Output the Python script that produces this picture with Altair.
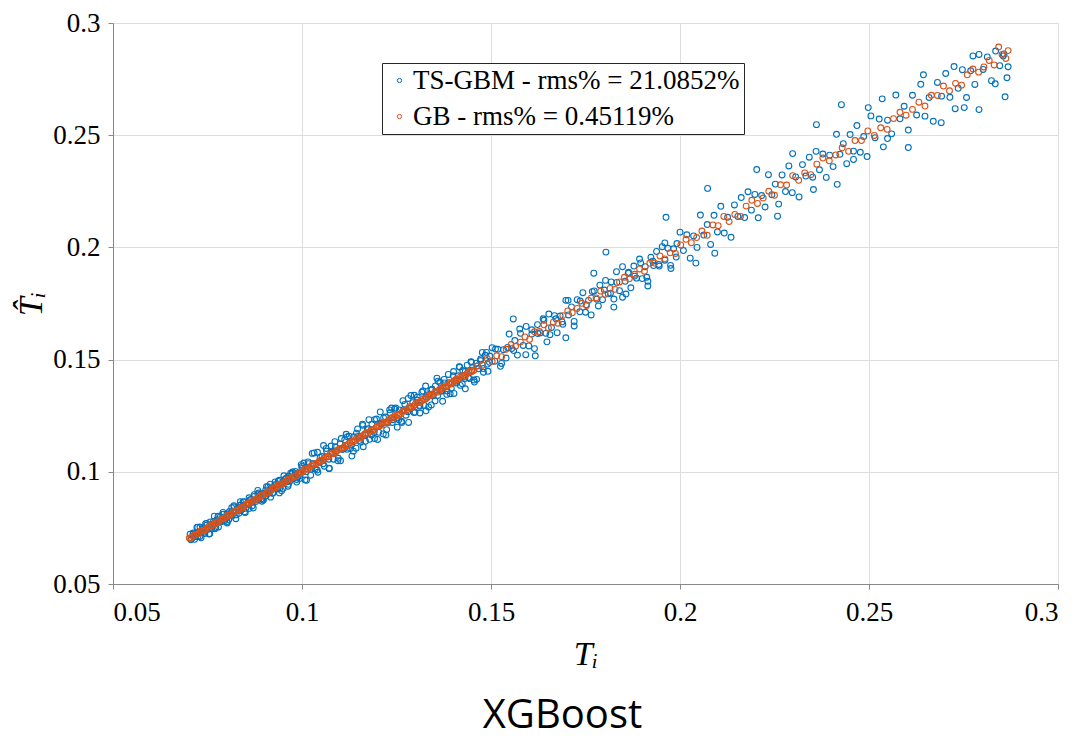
import altair as alt
import pandas as pd

# ---- values: T_i (x) and predicted T_i (y) ----
ts_label = "TS-GBM - rms% = 21.0852%"
gb_label = "GB - rms% = 0.45119%"

# TS-GBM, 0.07 - 0.10
ts_x_low = [
    0.0704, 0.0708, 0.0712, 0.0716, 0.0721, 0.0725, 0.0730, 0.0734, 0.0739, 0.0743,
    0.0748, 0.0752, 0.0757, 0.0761, 0.0766, 0.0770, 0.0775, 0.0779, 0.0784, 0.0788,
    0.0793, 0.0797, 0.0802, 0.0806, 0.0811, 0.0815, 0.0820, 0.0824, 0.0829, 0.0833,
    0.0838, 0.0842, 0.0847, 0.0851, 0.0856, 0.0860, 0.0865, 0.0869, 0.0874, 0.0878,
    0.0883, 0.0887, 0.0892, 0.0896, 0.0901, 0.0905, 0.0910, 0.0914, 0.0919, 0.0923,
    0.0928, 0.0932, 0.0937, 0.0941, 0.0946, 0.0950, 0.0955, 0.0959, 0.0964, 0.0968,
    0.0973, 0.0977, 0.0982, 0.0986, 0.0991, 0.0995, 0.1000,
    0.0706, 0.0712, 0.0718, 0.0724, 0.0730, 0.0736, 0.0742, 0.0748, 0.0754, 0.0760,
    0.0766, 0.0772, 0.0778, 0.0784, 0.0790, 0.0796, 0.0802, 0.0808, 0.0814, 0.0820,
    0.0826, 0.0832, 0.0838, 0.0844, 0.0850, 0.0856, 0.0862, 0.0868, 0.0874, 0.0880,
    0.0886, 0.0892, 0.0898, 0.0904, 0.0910, 0.0916, 0.0922, 0.0928, 0.0934, 0.0940,
    0.0946, 0.0952, 0.0958, 0.0964, 0.0970, 0.0976, 0.0982, 0.0988, 0.0994, 0.1000,
    0.0722, 0.0733, 0.0745, 0.0756, 0.0768, 0.0779, 0.0791, 0.0802, 0.0814, 0.0825,
    0.0837, 0.0848, 0.0860, 0.0871, 0.0883, 0.0894, 0.0906, 0.0917, 0.0929, 0.0940,
    0.0952, 0.0963, 0.0975, 0.0986, 0.0998,
]
ts_y_low = [
    0.0722, 0.0702, 0.0722, 0.0699, 0.0725, 0.0713, 0.0754, 0.0732, 0.0747, 0.0725,
    0.0762, 0.0744, 0.0777, 0.0747, 0.0768, 0.0746, 0.0787, 0.0775, 0.0800, 0.0778,
    0.0811, 0.0791, 0.0812, 0.0786, 0.0815, 0.0803, 0.0844, 0.0822, 0.0837, 0.0815,
    0.0852, 0.0834, 0.0867, 0.0837, 0.0858, 0.0836, 0.0877, 0.0865, 0.0890, 0.0868,
    0.0901, 0.0881, 0.0902, 0.0876, 0.0905, 0.0893, 0.0934, 0.0912, 0.0927, 0.0905,
    0.0942, 0.0924, 0.0957, 0.0927, 0.0948, 0.0926, 0.0967, 0.0955, 0.0980, 0.0958,
    0.0991, 0.0971, 0.0992, 0.0966, 0.0995, 0.0983, 0.1024,
    0.0697, 0.0727, 0.0711, 0.0753, 0.0712, 0.0745, 0.0731, 0.0770, 0.0723, 0.0764,
    0.0779, 0.0752, 0.0802, 0.0780, 0.0810, 0.0783, 0.0778, 0.0823, 0.0807, 0.0849,
    0.0808, 0.0841, 0.0827, 0.0866, 0.0819, 0.0860, 0.0875, 0.0848, 0.0898, 0.0876,
    0.0906, 0.0879, 0.0874, 0.0919, 0.0903, 0.0945, 0.0904, 0.0937, 0.0923, 0.0962,
    0.0915, 0.0956, 0.0971, 0.0944, 0.0994, 0.0972, 0.1002, 0.0975, 0.0970, 0.1015,
    0.0752, 0.0706, 0.0769, 0.0724, 0.0802, 0.0754, 0.0819, 0.0772, 0.0840, 0.0791,
    0.0867, 0.0821, 0.0884, 0.0839, 0.0917, 0.0869, 0.0934, 0.0887, 0.0955, 0.0906,
    0.0982, 0.0936, 0.0999, 0.0954, 0.1032,
]
# TS-GBM, 0.10 - 0.15
ts_x_mid = [
    0.1005, 0.1011, 0.1017, 0.1023, 0.1029, 0.1035, 0.1041, 0.1047, 0.1053, 0.1059,
    0.1065, 0.1071, 0.1077, 0.1083, 0.1089, 0.1095, 0.1101, 0.1107, 0.1113, 0.1119,
    0.1125, 0.1131, 0.1137, 0.1143, 0.1149, 0.1155, 0.1161, 0.1167, 0.1173, 0.1179,
    0.1185, 0.1191, 0.1197, 0.1203, 0.1209, 0.1215, 0.1221, 0.1227, 0.1233, 0.1239,
    0.1245, 0.1251, 0.1257, 0.1263, 0.1269, 0.1275, 0.1281, 0.1287, 0.1293, 0.1299,
    0.1305, 0.1311, 0.1317, 0.1323, 0.1329, 0.1335, 0.1341, 0.1347, 0.1353, 0.1359,
    0.1365, 0.1371, 0.1377, 0.1383, 0.1389, 0.1395, 0.1401, 0.1407, 0.1413, 0.1419,
    0.1425, 0.1431, 0.1437, 0.1443, 0.1449, 0.1455, 0.1461, 0.1467, 0.1473, 0.1479,
    0.1485, 0.1491, 0.1497,
    0.1008, 0.1016, 0.1024, 0.1032, 0.1040, 0.1048, 0.1056, 0.1064, 0.1072, 0.1080,
    0.1088, 0.1096, 0.1104, 0.1112, 0.1120, 0.1128, 0.1136, 0.1144, 0.1152, 0.1160,
    0.1168, 0.1176, 0.1184, 0.1192, 0.1200, 0.1208, 0.1216, 0.1224, 0.1232, 0.1240,
    0.1248, 0.1256, 0.1264, 0.1272, 0.1280, 0.1288, 0.1296, 0.1304, 0.1312, 0.1320,
    0.1328, 0.1336, 0.1344, 0.1352, 0.1360, 0.1368, 0.1376, 0.1384, 0.1392, 0.1400,
    0.1408, 0.1416, 0.1424, 0.1432, 0.1440, 0.1448, 0.1456, 0.1464, 0.1472, 0.1480,
    0.1488, 0.1496,
    0.1012, 0.1027, 0.1042, 0.1057, 0.1072, 0.1087, 0.1102, 0.1117, 0.1132, 0.1147,
    0.1162, 0.1177, 0.1192, 0.1207, 0.1222, 0.1237, 0.1252, 0.1267, 0.1282, 0.1297,
    0.1312, 0.1327, 0.1342, 0.1357, 0.1372, 0.1387, 0.1402, 0.1417, 0.1432, 0.1447,
    0.1462, 0.1477, 0.1492,
]
ts_y_mid = [
    0.1039, 0.1000, 0.1036, 0.0985, 0.1037, 0.1012, 0.1087, 0.1043, 0.1068, 0.1025,
    0.1092, 0.1056, 0.1115, 0.1056, 0.1093, 0.1049, 0.1124, 0.1099, 0.1143, 0.1100,
    0.1159, 0.1120, 0.1156, 0.1105, 0.1157, 0.1132, 0.1207, 0.1163, 0.1188, 0.1145,
    0.1212, 0.1176, 0.1235, 0.1176, 0.1213, 0.1169, 0.1244, 0.1219, 0.1263, 0.1220,
    0.1279, 0.1240, 0.1276, 0.1225, 0.1277, 0.1252, 0.1327, 0.1283, 0.1308, 0.1265,
    0.1332, 0.1296, 0.1355, 0.1296, 0.1333, 0.1289, 0.1364, 0.1339, 0.1383, 0.1340,
    0.1399, 0.1360, 0.1396, 0.1345, 0.1397, 0.1372, 0.1447, 0.1403, 0.1428, 0.1385,
    0.1452, 0.1416, 0.1475, 0.1416, 0.1453, 0.1409, 0.1484, 0.1459, 0.1503, 0.1460,
    0.1519, 0.1480, 0.1516,
    0.0964, 0.1044, 0.1012, 0.1084, 0.1008, 0.1064, 0.1036, 0.1104, 0.1016, 0.1088,
    0.1112, 0.1060, 0.1148, 0.1104, 0.1156, 0.1104, 0.1092, 0.1172, 0.1140, 0.1212,
    0.1136, 0.1192, 0.1164, 0.1232, 0.1144, 0.1216, 0.1240, 0.1188, 0.1276, 0.1232,
    0.1284, 0.1232, 0.1220, 0.1300, 0.1268, 0.1340, 0.1264, 0.1320, 0.1292, 0.1360,
    0.1272, 0.1344, 0.1368, 0.1316, 0.1404, 0.1360, 0.1412, 0.1360, 0.1348, 0.1428,
    0.1396, 0.1468, 0.1392, 0.1448, 0.1420, 0.1488, 0.1400, 0.1472, 0.1496, 0.1444,
    0.1532, 0.1488,
    0.0962, 0.1082, 0.0998, 0.1117, 0.1014, 0.1134, 0.1049, 0.1167, 0.1070, 0.1191,
    0.1112, 0.1232, 0.1148, 0.1267, 0.1164, 0.1284, 0.1199, 0.1317, 0.1220, 0.1341,
    0.1262, 0.1382, 0.1298, 0.1417, 0.1314, 0.1434, 0.1349, 0.1467, 0.1370, 0.1491,
    0.1412, 0.1532, 0.1448,
]
# TS-GBM, 0.15 - 0.20
ts_x_up = [
    0.1503, 0.1510, 0.1518, 0.1525, 0.1533, 0.1540, 0.1548, 0.1555, 0.1563, 0.1570,
    0.1578, 0.1585, 0.1593, 0.1600, 0.1608, 0.1615, 0.1623, 0.1630, 0.1638, 0.1645,
    0.1653, 0.1660, 0.1668, 0.1675, 0.1683, 0.1690, 0.1698, 0.1705, 0.1713, 0.1720,
    0.1728, 0.1735, 0.1743, 0.1750, 0.1758, 0.1765, 0.1773, 0.1780, 0.1788, 0.1795,
    0.1803, 0.1810, 0.1818, 0.1825, 0.1833, 0.1840, 0.1848, 0.1855, 0.1863, 0.1870,
    0.1878, 0.1885, 0.1893, 0.1900, 0.1908, 0.1915, 0.1923, 0.1930, 0.1938, 0.1945,
    0.1953, 0.1960, 0.1968, 0.1975, 0.1983, 0.1990,
    0.1559, 0.1617, 0.1648, 0.1698, 0.1772, 0.1804, 0.1825, 0.1857, 0.1915, 0.1963,
    0.1512, 0.1528, 0.1544, 0.1560, 0.1576, 0.1592, 0.1608, 0.1624, 0.1640, 0.1656,
    0.1672, 0.1688, 0.1704, 0.1720, 0.1736, 0.1752, 0.1768, 0.1784, 0.1800, 0.1816,
    0.1832, 0.1848, 0.1864, 0.1880, 0.1896, 0.1912, 0.1928, 0.1944, 0.1960, 0.1976,
    0.1992,
]
ts_y_up = [
    0.1553, 0.1493, 0.1546, 0.1470, 0.1544, 0.1507, 0.1614, 0.1549, 0.1585, 0.1520,
    0.1617, 0.1563, 0.1648, 0.1561, 0.1614, 0.1549, 0.1656, 0.1619, 0.1682, 0.1617,
    0.1703, 0.1643, 0.1696, 0.1620, 0.1694, 0.1657, 0.1764, 0.1699, 0.1735, 0.1670,
    0.1767, 0.1713, 0.1798, 0.1711, 0.1764, 0.1699, 0.1806, 0.1769, 0.1832, 0.1767,
    0.1853, 0.1793, 0.1846, 0.1770, 0.1844, 0.1807, 0.1914, 0.1849, 0.1885, 0.1820,
    0.1917, 0.1863, 0.1948, 0.1861, 0.1914, 0.1849, 0.1956, 0.1919, 0.1982, 0.1917,
    0.2003, 0.1943, 0.1996, 0.1920, 0.1994, 0.1957,
    0.1681, 0.1517, 0.1579, 0.1597, 0.1885, 0.1979, 0.1734, 0.1792, 0.1828, 0.2134,
    0.1547, 0.1483, 0.1554, 0.1540, 0.1636, 0.1522, 0.1633, 0.1616, 0.1675, 0.1611,
    0.1682, 0.1668, 0.1764, 0.1650, 0.1761, 0.1744, 0.1803, 0.1739, 0.1810, 0.1796,
    0.1892, 0.1778, 0.1889, 0.1872, 0.1931, 0.1867, 0.1938, 0.1924, 0.2020, 0.1906,
    0.2017,
]
# TS-GBM, 0.20 - 0.25
ts_x_high = [
    0.2000, 0.2009, 0.2018, 0.2027, 0.2036, 0.2045, 0.2054, 0.2063, 0.2072, 0.2081,
    0.2090, 0.2099, 0.2108, 0.2117, 0.2126, 0.2135, 0.2144, 0.2153, 0.2162, 0.2171,
    0.2180, 0.2189, 0.2198, 0.2207, 0.2216, 0.2225, 0.2234, 0.2243, 0.2252, 0.2261,
    0.2270, 0.2279, 0.2288, 0.2297, 0.2306, 0.2315, 0.2324, 0.2333, 0.2342, 0.2351,
    0.2360, 0.2369, 0.2378, 0.2387, 0.2396, 0.2405, 0.2414, 0.2423, 0.2432, 0.2441,
    0.2450, 0.2459, 0.2468, 0.2477, 0.2486, 0.2495,
    0.2042, 0.2073, 0.2092, 0.2203, 0.2258, 0.2298, 0.2353, 0.2361, 0.2416, 0.2427,
    0.2459, 0.2498,
]
ts_y_high = [
    0.2068, 0.1986, 0.2056, 0.1952, 0.2051, 0.2000, 0.2144, 0.2055, 0.2102, 0.2013,
    0.2143, 0.2069, 0.2183, 0.2064, 0.2134, 0.2045, 0.2189, 0.2138, 0.2222, 0.2133,
    0.2248, 0.2166, 0.2236, 0.2132, 0.2231, 0.2180, 0.2324, 0.2235, 0.2282, 0.2193,
    0.2323, 0.2249, 0.2363, 0.2244, 0.2314, 0.2225, 0.2369, 0.2318, 0.2402, 0.2313,
    0.2428, 0.2346, 0.2416, 0.2312, 0.2411, 0.2360, 0.2504, 0.2415, 0.2462, 0.2373,
    0.2503, 0.2429, 0.2543, 0.2424, 0.2494, 0.2405,
    0.1930, 0.2263, 0.1974, 0.2347, 0.2139, 0.2418, 0.2258, 0.2547, 0.2281, 0.2636,
    0.2392, 0.2623,
]
# TS-GBM, 0.25 - 0.287
ts_x_top = [
    0.2505, 0.2516, 0.2527, 0.2538, 0.2549, 0.2560, 0.2571, 0.2582, 0.2593, 0.2604,
    0.2615, 0.2626, 0.2637, 0.2648, 0.2659, 0.2670, 0.2681, 0.2692, 0.2703, 0.2714,
    0.2725, 0.2736, 0.2747, 0.2758, 0.2769, 0.2780, 0.2791, 0.2802, 0.2813, 0.2824,
    0.2835, 0.2846, 0.2857, 0.2868,
    0.2535, 0.2549, 0.2604, 0.2644, 0.2691, 0.2728, 0.2752, 0.2775, 0.2791, 0.2834,
    0.2855, 0.2860, 0.2865,
]
ts_y_top = [
    0.2586, 0.2489, 0.2572, 0.2448, 0.2567, 0.2506, 0.2679, 0.2573, 0.2629, 0.2523,
    0.2678, 0.2590, 0.2727, 0.2585, 0.2668, 0.2562, 0.2735, 0.2674, 0.2775, 0.2669,
    0.2806, 0.2709, 0.2792, 0.2668, 0.2787, 0.2726, 0.2860, 0.2793, 0.2849, 0.2743,
    0.2875, 0.2810, 0.2862, 0.2805,
    0.2662, 0.2485, 0.2445, 0.2769, 0.2556, 0.2618, 0.2623, 0.2853, 0.2614, 0.2729,
    0.2853, 0.2671, 0.2756,
]

# GB
gb_x = [
    0.0702, 0.0711, 0.0719, 0.0728, 0.0737, 0.0745, 0.0753, 0.0762, 0.0770, 0.0779,
    0.0788, 0.0796, 0.0805, 0.0813, 0.0822, 0.0831, 0.0839, 0.0848, 0.0856, 0.0865,
    0.0874, 0.0882, 0.0891, 0.0899, 0.0908, 0.0917, 0.0925, 0.0934, 0.0942, 0.0951,
    0.0960, 0.0968, 0.0977, 0.0985, 0.0994, 0.1003, 0.1011, 0.1020, 0.1028, 0.1037,
    0.1046, 0.1054, 0.1063, 0.1071, 0.1080, 0.1089, 0.1097, 0.1106, 0.1114, 0.1123,
    0.1132, 0.1140, 0.1149, 0.1157, 0.1166, 0.1175, 0.1183, 0.1192, 0.1200, 0.1209,
    0.1218, 0.1226, 0.1235, 0.1243, 0.1252, 0.1261, 0.1269, 0.1278, 0.1286, 0.1295,
    0.1304, 0.1312, 0.1321, 0.1329, 0.1338, 0.1347, 0.1355, 0.1364, 0.1372, 0.1381,
    0.1390, 0.1398, 0.1407, 0.1415, 0.1424, 0.1433, 0.1441, 0.1450,
    0.0706, 0.0715, 0.0724, 0.0732, 0.0741, 0.0749, 0.0758, 0.0766, 0.0775, 0.0783,
    0.0792, 0.0800, 0.0809, 0.0818, 0.0826, 0.0835, 0.0843, 0.0852, 0.0861, 0.0869,
    0.0878, 0.0886, 0.0895, 0.0904, 0.0912, 0.0921, 0.0929, 0.0938, 0.0946, 0.0955,
    0.0964, 0.0972, 0.0981, 0.0990, 0.0998, 0.1007, 0.1015, 0.1024, 0.1032, 0.1041,
    0.1050, 0.1058, 0.1067, 0.1075, 0.1084, 0.1093, 0.1101, 0.1110, 0.1118, 0.1127,
    0.1136, 0.1144, 0.1153, 0.1161, 0.1170, 0.1179, 0.1187, 0.1196, 0.1204, 0.1213,
    0.1222, 0.1230, 0.1239, 0.1247, 0.1256, 0.1265, 0.1273, 0.1282, 0.1290, 0.1299,
    0.1308, 0.1316, 0.1325, 0.1333, 0.1342, 0.1351, 0.1359, 0.1368, 0.1376, 0.1385,
    0.1394, 0.1402, 0.1411, 0.1419, 0.1428, 0.1437, 0.1445, 0.1455,
    0.1462, 0.1478, 0.1490, 0.1503, 0.1515, 0.1528, 0.1540, 0.1553, 0.1565, 0.1578,
    0.1590, 0.1602, 0.1615, 0.1628, 0.1640, 0.1652, 0.1665, 0.1677, 0.1690, 0.1703,
    0.1715, 0.1728, 0.1740, 0.1753, 0.1765, 0.1778, 0.1790, 0.1802, 0.1815, 0.1828,
    0.1840, 0.1853, 0.1866, 0.1880, 0.1893, 0.1906, 0.1920, 0.1933, 0.1947, 0.1960,
    0.1974, 0.1988, 0.2002, 0.2016, 0.2030, 0.2044, 0.2058, 0.2072, 0.2087, 0.2101,
    0.2116, 0.2130, 0.2145, 0.2160, 0.2175, 0.2190, 0.2205, 0.2220, 0.2235, 0.2250,
    0.2266, 0.2282, 0.2298, 0.2314, 0.2330, 0.2346, 0.2362, 0.2378, 0.2395, 0.2412,
    0.2429, 0.2446, 0.2463, 0.2480, 0.2497, 0.2514, 0.2531, 0.2548, 0.2565, 0.2582,
    0.2598, 0.2615, 0.2632, 0.2648, 0.2665, 0.2681, 0.2697, 0.2713, 0.2729, 0.2745,
    0.2760, 0.2775, 0.2790, 0.2804, 0.2818, 0.2831, 0.2843, 0.2852, 0.2862, 0.2868,
]
gb_y = [
    0.0705, 0.0712, 0.0721, 0.0726, 0.0739, 0.0744, 0.0756, 0.0760, 0.0772, 0.0777,
    0.0790, 0.0794, 0.0807, 0.0811, 0.0824, 0.0829, 0.0841, 0.0846, 0.0859, 0.0863,
    0.0876, 0.0880, 0.0893, 0.0897, 0.0910, 0.0914, 0.0928, 0.0932, 0.0945, 0.0949,
    0.0962, 0.0966, 0.0979, 0.0983, 0.0997, 0.1000, 0.1014, 0.1018, 0.1031, 0.1035,
    0.1048, 0.1052, 0.1066, 0.1069, 0.1083, 0.1086, 0.1100, 0.1104, 0.1117, 0.1121,
    0.1135, 0.1138, 0.1152, 0.1155, 0.1169, 0.1172, 0.1186, 0.1189, 0.1203, 0.1207,
    0.1221, 0.1223, 0.1238, 0.1241, 0.1255, 0.1258, 0.1272, 0.1275, 0.1290, 0.1292,
    0.1307, 0.1309, 0.1324, 0.1327, 0.1342, 0.1344, 0.1359, 0.1361, 0.1376, 0.1378,
    0.1394, 0.1396, 0.1411, 0.1413, 0.1428, 0.1430, 0.1445, 0.1447,
    0.0703, 0.0717, 0.0723, 0.0736, 0.0737, 0.0750, 0.0761, 0.0764, 0.0772, 0.0785,
    0.0791, 0.0804, 0.0805, 0.0819, 0.0829, 0.0833, 0.0840, 0.0854, 0.0860, 0.0873,
    0.0874, 0.0887, 0.0898, 0.0902, 0.0909, 0.0923, 0.0928, 0.0942, 0.0942, 0.0956,
    0.0967, 0.0970, 0.0978, 0.0992, 0.0997, 0.1011, 0.1011, 0.1025, 0.1035, 0.1039,
    0.1047, 0.1060, 0.1066, 0.1079, 0.1080, 0.1094, 0.1104, 0.1108, 0.1115, 0.1129,
    0.1135, 0.1148, 0.1149, 0.1162, 0.1173, 0.1177, 0.1184, 0.1198, 0.1203, 0.1217,
    0.1218, 0.1231, 0.1242, 0.1245, 0.1253, 0.1267, 0.1272, 0.1286, 0.1286, 0.1300,
    0.1311, 0.1314, 0.1322, 0.1335, 0.1341, 0.1355, 0.1355, 0.1369, 0.1379, 0.1383,
    0.1391, 0.1404, 0.1410, 0.1423, 0.1424, 0.1438, 0.1448, 0.1453,
    0.1471, 0.1475, 0.1505, 0.1492, 0.1517, 0.1513, 0.1546, 0.1567, 0.1559, 0.1578,
    0.1601, 0.1590, 0.1624, 0.1625, 0.1655, 0.1641, 0.1667, 0.1662, 0.1696, 0.1717,
    0.1709, 0.1728, 0.1751, 0.1741, 0.1774, 0.1775, 0.1805, 0.1791, 0.1817, 0.1813,
    0.1846, 0.1867, 0.1860, 0.1880, 0.1904, 0.1894, 0.1929, 0.1930, 0.1962, 0.1949,
    0.1976, 0.1973, 0.2011, 0.2036, 0.2021, 0.2044, 0.2073, 0.2054, 0.2100, 0.2097,
    0.2138, 0.2115, 0.2147, 0.2138, 0.2184, 0.2210, 0.2196, 0.2220, 0.2250, 0.2232,
    0.2279, 0.2278, 0.2320, 0.2299, 0.2332, 0.2324, 0.2371, 0.2398, 0.2386, 0.2412,
    0.2444, 0.2428, 0.2476, 0.2476, 0.2519, 0.2499, 0.2533, 0.2526, 0.2574, 0.2602,
    0.2589, 0.2615, 0.2647, 0.2630, 0.2678, 0.2677, 0.2719, 0.2698, 0.2731, 0.2723,
    0.2769, 0.2795, 0.2781, 0.2804, 0.2833, 0.2813, 0.2893, 0.2860, 0.2842, 0.2877,
]

axis_ticks = [0.05, 0.1, 0.15, 0.2, 0.25, 0.3]
series_order = [ts_label, gb_label]
series_colors = ["#0072BD", "#D95319"]

ts_x = ts_x_low + ts_x_mid + ts_x_up + ts_x_high + ts_x_top
ts_y = ts_y_low + ts_y_mid + ts_y_up + ts_y_high + ts_y_top

df = pd.concat([
    pd.DataFrame({"T": ts_x, "That": ts_y, "series": ts_label, "rank": 0}),
    pd.DataFrame({"T": gb_x, "That": gb_y, "series": gb_label, "rank": 1}),
], ignore_index=True)

serif = "Liberation Serif"
label_expr = ("datum.value == 0.1 ? '0.1' : datum.value == 0.2 ? '0.2' : "
              "datum.value == 0.3 ? '0.3' : datum.label")

chart = alt.Chart(df).mark_point(
    shape="circle", filled=False, size=34, strokeWidth=1.1, opacity=1
).encode(
    x=alt.X("T:Q", scale=alt.Scale(domain=[0.05, 0.3], nice=False),
            axis=alt.Axis(values=axis_ticks, title="Tᵢ", labelExpr=label_expr,
                          labelFont=serif, titleFont=serif,
                          labelFontSize=27, titleFontSize=34, titleFontStyle="italic",
                          titleFontWeight="normal", labelPadding=10, titlePadding=12)),
    y=alt.Y("That:Q", scale=alt.Scale(domain=[0.05, 0.3], nice=False),
            axis=alt.Axis(values=axis_ticks, title="T̂ᵢ", labelExpr=label_expr,
                          labelFont=serif, titleFont=serif,
                          labelFontSize=27, titleFontSize=34, titleFontStyle="italic",
                          titleFontWeight="normal", labelPadding=8, titlePadding=4)),
    color=alt.Color("series:N", scale=alt.Scale(domain=series_order, range=series_colors),
                    sort=series_order,
                    legend=alt.Legend(title=None, orient="none", legendX=269, legendY=40,
                                      direction="vertical", strokeColor="#262626",
                                      fillColor="white", padding=4, labelFont=serif,
                                      labelFontSize=27, labelColor="black",
                                      symbolType="circle", symbolSize=18,
                                      symbolStrokeWidth=1, rowPadding=8,
                                      labelOffset=0, labelLimit=500)),
    order=alt.Order("rank:Q"),
).properties(
    width=945,
    height=561,
    title=alt.TitleParams("XGBoost", orient="bottom", font="Open Sans", fontSize=40,
                          fontWeight="normal", color="black", offset=25, dx=-23),
    padding={"left": 6, "top": 1, "right": 0, "bottom": 5},
).configure_axis(
    labelColor="black", titleColor="black",
    domainColor="#808080", domainWidth=1, grid=True, gridColor="#e8e8e8",
    gridWidth=1, tickSize=0,
).configure_view(
    stroke="#808080", strokeWidth=1,
).configure(background="white")

chart.save("out.html", embed_options={"renderer": "svg", "actions": False})
